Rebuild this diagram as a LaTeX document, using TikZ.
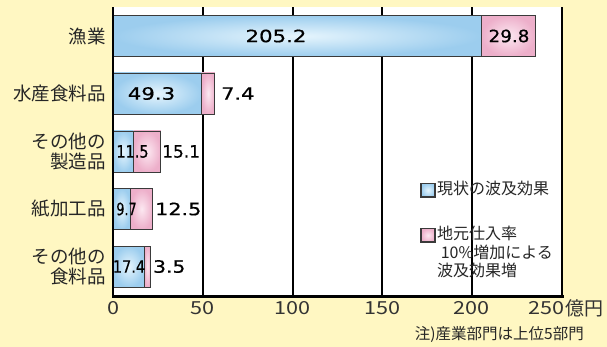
\documentclass[tikz,border=0pt]{standalone}
\usepackage{fontspec}
\setmainfont{Noto Sans CJK JP}
\newfontfamily\numfont[FakeBold=0.6]{DejaVu Sans}
\definecolor{bg}{HTML}{FFF7C2}
\definecolor{bout}{HTML}{9CCDEE}
\definecolor{bin}{HTML}{E6F5FD}
\definecolor{pout}{HTML}{EDAFCA}
\definecolor{pin}{HTML}{FCE8F1}
\definecolor{edge}{HTML}{3A3A3A}
\begin{document}
\begin{tikzpicture}[x=1pt,y=-1pt,
  bluebar/.style={draw=edge, line width=0.9pt, inner color=bin, outer color=bout},
  pinkbar/.style={draw=edge, line width=0.9pt, inner color=pin, outer color=pout},
  grid/.style={line width=2pt, black},
  axisline/.style={line width=2.6pt, black},
  cat/.style={font=\fontsize{18.5}{20}\selectfont, anchor=east, align=right, inner sep=0pt, text=black!85},
  val/.style={font=\numfont\fontsize{17}{18}\selectfont, inner sep=0pt, text=black},
  tick/.style={font=\fontsize{18}{20}\selectfont, inner sep=0pt, text=black!80},
  leg/.style={font=\fontsize{16}{18.5}\selectfont, anchor=north west, align=left, inner sep=0pt, text=black!85},
  legbox/.style={draw=edge, line width=1.1pt}
]
\fill[bg] (0,0) rectangle (607,347);
\useasboundingbox (0,0) rectangle (607,347);
\fill[white] (113,7.5) rectangle (562,295);
% grid lines
\foreach \v in {50,100,150,200,250}
  \draw[grid] ({113+1.796*\v},7.5) -- ({113+1.796*\v},295);
% bars
\begin{scope}[shift={(113,0)}, x=1.796pt]
  \foreach \c/\a/\b in {36/205.2/29.8, 93.5/49.3/7.4, 151.5/11.5/15.1, 209/9.7/12.5, 266.5/17.4/3.5} {
    \path[bluebar] (0,\c-20.5) rectangle (\a,\c+20.5);
    \path[pinkbar] (\a,\c-20.5) rectangle ({\a+\b},\c+20.5);
  }
\end{scope}
% axes
\draw[axisline] (113,7.5) -- (113,296.3) -- (563.5,296.3);
% category labels
\node[cat] (c1) at (106,36) {漁業};
\node[cat] (c2) at (106,93.5) {水産食料品};
\node[cat] (c3) at (106,151.5) {その他の\\製造品};
\node[cat] (c4) at (106,209) {紙加工品};
\node[cat] (c5) at (106,266.5) {その他の\\食料品};
% values
\node[val] (v1a) at (276,36) {\scalebox{1.25}[1]{205.2}};
\node[val] (v1b) at (509,36) {\scalebox{1.08}[1]{29.8}};
\node[val] (v2a) at (151.5,93.5) {\scalebox{1.25}[1]{49.3}};
\node[val, anchor=west] (v2b) at (221,93.5) {\scalebox{1.23}[1]{7.4}};
\node[val] (v3a) at (132.5,151.5) {\scalebox{0.85}[1]{11.5}};
\node[val, anchor=west] (v3b) at (162,151.5) {\scalebox{1.0}[1]{15.1}};
\node[val] (v4a) at (126.5,209) {\scalebox{0.75}[1]{9.7}};
\node[val, anchor=west] (v4b) at (155,209) {\scalebox{1.22}[1]{12.5}};
\node[val] (v5a) at (129,266.5) {\scalebox{0.85}[1]{17.4}};
\node[val, anchor=west] (v5b) at (153,266.5) {\scalebox{1.19}[1]{3.5}};
% tick labels
\node[tick] (t0) at (113,308) {\scalebox{1.2}[1]{0}};
\node[tick] (t50) at (202.8,308) {\scalebox{1.2}[1]{50}};
\node[tick] (t100) at (292.6,308) {\scalebox{1.2}[1]{100}};
\node[tick] (t150) at (382.4,308) {\scalebox{1.2}[1]{150}};
\node[tick] (t200) at (471,308) {\scalebox{1.2}[1]{200}};
\node[tick, anchor=east] (t250) at (565,308) {\scalebox{1.2}[1]{250}};
\node[tick, anchor=west, font=\fontsize{19}{20}\selectfont] (unit) at (t250.east) {億円};
% legend
\path[legbox, inner color=bin, outer color=bout] (421,183.5) rectangle (435,197);
\node[leg] (l1) at (437,181) {現状の波及効果};
\path[legbox, inner color=pin, outer color=pout] (421,228.5) rectangle (435,242);
\node[leg] (l2) at (437,226) {地元仕入率\\\ 10\%増加による\\波及効果増};
% note
\node[font=\fontsize{15.5}{17}\selectfont, anchor=east, inner sep=0pt, text=black!85] (note) at (584,334) {注)産業部門は上位5部門};
\end{tikzpicture}
\end{document}
